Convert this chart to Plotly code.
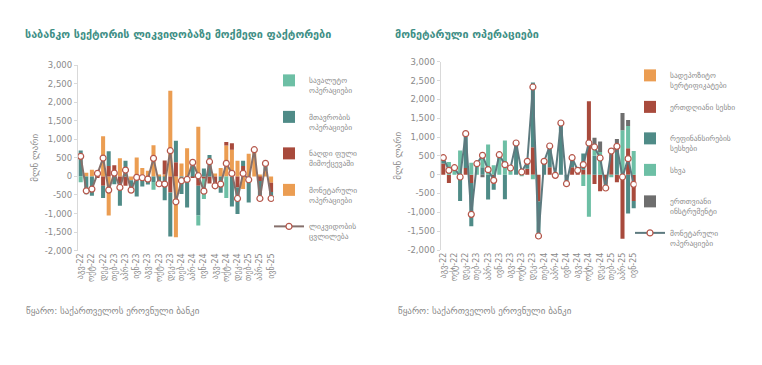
import plotly.graph_objects as go

months = ["აგვ-22", "სექ-22", "ოქტ-22", "ნოე-22", "დეკ-22",
          "იან-23", "თებ-23", "მარ-23", "აპრ-23", "მაი-23", "ივნ-23", "ივლ-23",
          "აგვ-23", "სექ-23", "ოქტ-23", "ნოე-23", "დეკ-23",
          "იან-24", "თებ-24", "მარ-24", "აპრ-24", "მაი-24", "ივნ-24", "ივლ-24",
          "აგვ-24", "სექ-24", "ოქტ-24", "ნოე-24", "დეკ-24",
          "იან-25", "თებ-25", "მარ-25", "აპრ-25", "მაი-25", "ივნ-25"]
tick_labels = months[::2]

# ---- Left panel: factors affecting banking sector liquidity (mln GEL)
fx_ops = [-160, 0, 0, 0, 0, 0, 0, 0, 0, 0, 0, 0, 0, -210, 0, 0, 0, 0, 0, 0, 0, -270, -550, 0, 0, 0, -580, 0, 0, 0, 0, 0, 0, 0, 0]
gov_ops = [700, -480, -520, 0, -330, 400, -210, -590, 420, -270, -540, -150, -220, -150, -250, -640, -1190, 580, -470, -840, 420, -800, 210, 580, -110, -440, 0, -810, -710, 140, -700, 0, -520, 200, -170]
cash_circ = [0, 0, 0, -40, -250, 280, 150, -200, -250, 0, 0, -120, 0, 0, 0, 380, -430, 380, 0, 0, -40, -250, -60, -190, -220, 0, 100, 170, -300, 280, 0, 0, -120, 0, -250]
mon_ops_l = [0, 100, 180, 120, 1080, -1050, 150, 490, 0, -100, 510, 230, 150, 840, 50, 50, 2310, -1640, 350, 760, 0, 1340, 0, 0, 80, 230, 830, 720, 420, -340, 610, 720, 50, 150, -170]
liq_change = [540, -387, -342, 81, 495, -369, 90, -297, 171, -369, -27, -36, -72, 486, -198, -207, 693, -684, -117, -81, 378, 18, -396, 396, -252, -207, 351, 81, -594, 81, -90, 720, -594, 351, -594]

# ---- Right panel: monetary operations (mln GEL)
dep_cert = [0] * 35
overnight = [300, -220, 0, 0, 180, -220, 0, 0, 0, -240, 0, 0, 0, 0, 110, 160, 730, -710, 0, 200, -40, 0, 0, 200, 60, 130, 1950, -250, -440, -250, 700, -200, -1700, 700, -700]
refin = [150, 0, 0, -700, 910, -1150, 0, 200, -660, -160, 0, -650, 0, 840, 0, 190, 1720, -920, 354, 560, 0, 1370, -240, 250, 0, 430, 0, 500, 0, -100, 0, 600, 0, -1030, -190]
other = [0, 340, 190, 640, 0, 320, 290, 380, 800, 250, 530, 910, 180, 0, -40, 0, -120, 0, 0, 0, 60, 0, 0, 0, 55, -300, -1120, 270, 600, 0, -70, 0, 1180, 590, 630]
one_month = [0, 0, 0, 0, 0, 0, 0, -70, 0, 0, 0, 0, 0, 0, 0, 0, 0, 0, 0, 0, -40, 0, 0, 0, 0, 0, 0, 210, 280, 0, 0, 350, 460, 160, 0]
mon_ops_r = [451, 115, 186, -62, 1089, -1053, 292, 513, 133, -150, 531, 266, 177, 841, 71, 354, 2328, -1628, 354, 761, -18, 1372, -239, 451, 115, 266, 841, 735, 443, -354, 628, 752, -62, 425, -257]

C_LTEAL = "#6dbfa5"
C_DTEAL = "#4f8b87"
C_RED = "#a84a3c"
C_ORANGE = "#eb9d52"
C_GRAY = "#6e6e6e"
TXT = "#8a8a8a"
FONT = "DejaVu Sans"

fig = go.Figure()

def bar(name, vals, color, xa, ya, leg, rank):
    fig.add_trace(go.Bar(x=months, y=vals, name=name, marker=dict(color=color, line=dict(width=0)),
                         xaxis=xa, yaxis=ya, legend=leg, legendrank=rank, legendgroup=leg + str(rank)))

# stacking order: first trace nearest zero
bar("მონეტარული<br>ოპერაციები", mon_ops_l, C_ORANGE, "x", "y", "legend", 4)
bar("ნაღდი ფული<br>მიმოქცევაში", cash_circ, C_RED, "x", "y", "legend", 3)
bar("მთავრობის<br>ოპერაციები", gov_ops, C_DTEAL, "x", "y", "legend", 2)
bar("სავალუტო<br>ოპერაციები", fx_ops, C_LTEAL, "x", "y", "legend", 1)
fig.add_trace(go.Scatter(x=months, y=liq_change, name="ლიკვიდობის<br>ცვლილება", mode="lines+markers",
                         line=dict(color="#86706c", width=2),
                         marker=dict(size=6, color="white", line=dict(color="#b5574b", width=1.2)),
                         xaxis="x", yaxis="y", legend="legend", legendrank=5, legendgroup="legend5"))

bar("სადეპოზიტო<br>სერტიფიკატები", dep_cert, C_ORANGE, "x2", "y2", "legend2", 1)
bar("ერთდღიანი სესხი<br> ", overnight, C_RED, "x2", "y2", "legend2", 2)
bar("რეფინანსირების<br>სესხები", refin, C_DTEAL, "x2", "y2", "legend2", 3)
bar("სხვა<br> ", other, C_LTEAL, "x2", "y2", "legend2", 4)
bar("ერთთვიანი<br>ინსტრუმენტი", one_month, C_GRAY, "x2", "y2", "legend2", 5)
fig.add_trace(go.Scatter(x=months, y=mon_ops_r, name="მონეტარული<br>ოპერაციები", mode="lines+markers",
                         line=dict(color="#5d7a7f", width=2),
                         marker=dict(size=6, color="white", line=dict(color="#b5574b", width=1.2)),
                         xaxis="x2", yaxis="y2", legend="legend2", legendrank=6, legendgroup="legend26"))

# page body has an 8px margin: map reference pixel coords into the figure
OFF = 8
W, H = 762 - OFF, 365 - OFF
def px(x):
    return (x - OFF) / W
def py(y):
    return 1 - (y - OFF) / H

yticks = list(range(-2000, 3001, 500))
ytext = [f"{v:,}" for v in yticks]

xcommon = dict(type="category", categoryorder="array", categoryarray=months, tickmode="array",
               tickvals=tick_labels, ticktext=tick_labels, tickangle=-90, showgrid=False, showline=False,
               zeroline=False, ticks="", tickfont=dict(family=FONT, size=8, color=TXT), range=[-0.5, 34.5],
               automargin=False)
ycommon = dict(range=[-2000, 3000], tickmode="array", tickvals=yticks, ticktext=ytext, showgrid=False,
               zeroline=False, showline=True, linecolor="#d9d9d9", linewidth=1, ticks="outside",
               ticklen=3, tickcolor="#d9d9d9", tickfont=dict(family=FONT, size=8.5, color=TXT),
               title=dict(text="მლნ ლარი", font=dict(family=FONT, size=9, color=TXT), standoff=4),
               automargin=False)

fig.update_layout(
    width=W, height=H, margin=dict(l=0, r=0, t=0, b=0, autoexpand=False),
    paper_bgcolor="white", plot_bgcolor="white",
    barmode="relative", bargap=0.28,
    font=dict(family=FONT, color=TXT),
    xaxis=dict(domain=[px(77.9), px(273.9)], anchor="y", **xcommon),
    yaxis=dict(domain=[py(250.7), py(65)], anchor="x", **ycommon),
    xaxis2=dict(domain=[px(440.5), px(636.5)], anchor="y2", **xcommon),
    yaxis2=dict(domain=[py(250), py(61.7)], anchor="x2", **ycommon),
    legend=dict(x=px(269), y=py(69), xanchor="left", yanchor="top", font=dict(family=FONT, size=7.5, color=TXT),
                bgcolor="rgba(0,0,0,0)", tracegroupgap=14, valign="top", itemwidth=30),
    legend2=dict(x=px(630), y=py(64), xanchor="left", yanchor="top", font=dict(family=FONT, size=7.5, color=TXT),
                 bgcolor="rgba(0,0,0,0)", tracegroupgap=9, valign="top", itemwidth=30),
    showlegend=True,
)

fig.add_annotation(text="<b>საბანკო სექტორის ლიკვიდობაზე მოქმედი ფაქტორები</b>", x=px(23), y=py(35),
                   xref="paper", yref="paper", xanchor="left", yanchor="middle", showarrow=False,
                   font=dict(family=FONT, size=10.8, color="#3f8f86"))
fig.add_annotation(text="<b>მონეტარული ოპერაციები</b>", x=px(393), y=py(35),
                   xref="paper", yref="paper", xanchor="left", yanchor="middle", showarrow=False,
                   font=dict(family=FONT, size=10.8, color="#3f8f86"))
fig.add_annotation(text="წყარო: საქართველოს ეროვნული ბანკი", x=px(24), y=py(311),
                   xref="paper", yref="paper", xanchor="left", yanchor="middle", showarrow=False,
                   font=dict(family=FONT, size=9, color=TXT))
fig.add_annotation(text="წყარო: საქართველოს ეროვნული ბანკი", x=px(396), y=py(311),
                   xref="paper", yref="paper", xanchor="left", yanchor="middle", showarrow=False,
                   font=dict(family=FONT, size=9, color=TXT))

fig.write_html("out.html")
